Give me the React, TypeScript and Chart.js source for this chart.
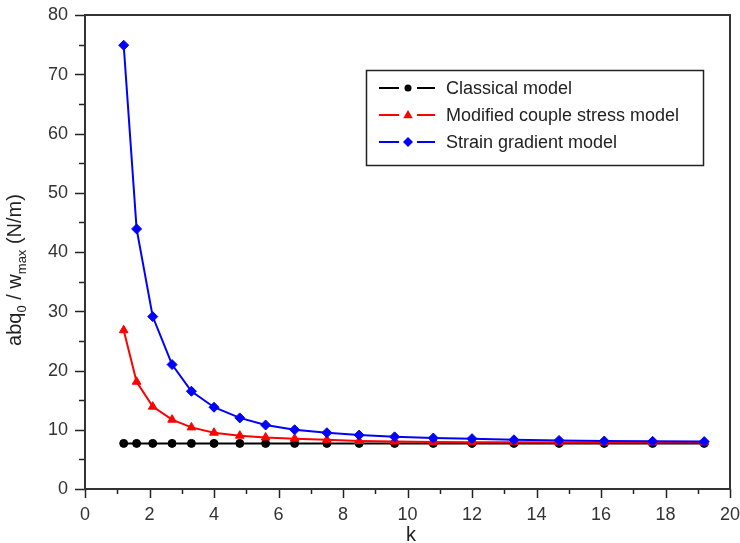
import React, { useEffect, useRef } from 'react';
import { Chart, registerables } from 'chart.js';

Chart.register(...registerables);

// ---- data ----
const kValues = [1.2, 1.6, 2.1, 2.7, 3.3, 4.0, 4.8, 5.6, 6.5, 7.5, 8.5, 9.6, 10.8, 12.0, 13.3, 14.7, 16.1, 17.6, 19.2];
const classicalValues = [7.7, 7.7, 7.7, 7.7, 7.7, 7.7, 7.7, 7.7, 7.7, 7.7, 7.7, 7.7, 7.7, 7.7, 7.7, 7.7, 7.7, 7.7, 7.7];
const modifiedValues = [26.8, 18.1, 13.9, 11.7, 10.4, 9.5, 9.0, 8.7, 8.5, 8.3, 8.1, 8.0, 7.95, 7.9, 7.9, 7.85, 7.85, 7.85, 7.85];
const strainValues = [74.9, 43.9, 29.1, 21.0, 16.5, 13.8, 12.0, 10.8, 10.0, 9.5, 9.1, 8.8, 8.6, 8.5, 8.3, 8.2, 8.1, 8.05, 8.0];
const seriesNames = ['Classical model', 'Modified couple stress model', 'Strain gradient model'];
const seriesColors = ['#000000', '#ff0000', '#0000ff'];
const seriesMarkers = ['circle', 'triangle', 'rectRot'];
const xRange = [0, 20];
const yRange = [0, 80];
const xMajorStep = 2;
const yMajorStep = 10;
const xTitle = 'k';
const yTitleParts: { t: string; sub: boolean }[] = [
  { t: 'abq', sub: false },
  { t: '0', sub: true },
  { t: ' / w', sub: false },
  { t: 'max', sub: true },
  { t: ' (N/m)', sub: false },
];

const FONT = '"Liberation Sans", Arial, Helvetica, sans-serif';

function drawMarker(ctx: CanvasRenderingContext2D, kind: string, x: number, y: number, r: number, color: string) {
  ctx.save();
  ctx.fillStyle = color;
  ctx.beginPath();
  if (kind === 'circle') {
    ctx.arc(x, y, r, 0, Math.PI * 2);
  } else if (kind === 'triangle') {
    ctx.moveTo(x, y - r);
    ctx.lineTo(x + r * 0.95, y + r * 0.65);
    ctx.lineTo(x - r * 0.95, y + r * 0.65);
    ctx.closePath();
  } else {
    ctx.moveTo(x, y - r);
    ctx.lineTo(x + r, y);
    ctx.lineTo(x, y + r);
    ctx.lineTo(x - r, y);
    ctx.closePath();
  }
  ctx.fill();
  ctx.restore();
}

const decorPlugin = {
  id: 'decor',
  afterDraw(chart: any) {
    const { ctx, chartArea: a, scales } = chart;
    const xs = scales.x;
    const ys = scales.y;
    ctx.save();
    // ticks (major + minor)
    ctx.strokeStyle = '#222';
    ctx.lineWidth = 1.5;
    for (let v = xRange[0]; v <= xRange[1]; v += 1) {
      const x = Math.round(xs.getPixelForValue(v)) + 0.5;
      const len = v % xMajorStep === 0 ? 9 : 5;
      ctx.beginPath();
      ctx.moveTo(x, a.bottom);
      ctx.lineTo(x, a.bottom + len);
      ctx.stroke();
    }
    for (let v = yRange[0]; v <= yRange[1]; v += yMajorStep / 2) {
      const y = Math.round(ys.getPixelForValue(v)) + 0.5;
      const len = v % yMajorStep === 0 ? 10 : 6;
      ctx.beginPath();
      ctx.moveTo(a.left - len, y);
      ctx.lineTo(a.left, y);
      ctx.stroke();
    }
    // frame
    ctx.strokeStyle = '#333';
    ctx.lineWidth = 2;
    ctx.strokeRect(a.left, a.top, a.right - a.left, a.bottom - a.top);

    // tick labels from the scales' ticks
    ctx.fillStyle = '#333';
    ctx.font = `18px ${FONT}`;
    ctx.textBaseline = 'middle';
    ctx.textAlign = 'center';
    for (const t of xs.ticks) {
      ctx.fillText(String(t.value), xs.getPixelForValue(t.value), 515);
    }
    ctx.textAlign = 'right';
    for (const t of ys.ticks) {
      ctx.fillText(String(t.value), 68, ys.getPixelForValue(t.value) + 0.5);
    }

    // x title
    ctx.fillStyle = '#222';
    ctx.font = `20px ${FONT}`;
    ctx.textAlign = 'center';
    ctx.textBaseline = 'alphabetic';
    ctx.fillText(xTitle, 411, 541);

    // y title with subscripts
    const mainFont = `20px ${FONT}`;
    const subFont = `13px ${FONT}`;
    let total = 0;
    for (const p of yTitleParts) {
      ctx.font = p.sub ? subFont : mainFont;
      total += ctx.measureText(p.t).width;
    }
    ctx.save();
    ctx.translate(21, 270);
    ctx.rotate(-Math.PI / 2);
    ctx.textAlign = 'left';
    ctx.textBaseline = 'alphabetic';
    let cx = -total / 2;
    for (const p of yTitleParts) {
      ctx.font = p.sub ? subFont : mainFont;
      ctx.fillText(p.t, cx, p.sub ? 5 : 0);
      cx += ctx.measureText(p.t).width;
    }
    ctx.restore();

    // legend
    ctx.strokeStyle = '#222';
    ctx.lineWidth = 1.5;
    ctx.strokeRect(366.5, 70.5, 337, 95);
    const rows = [88, 115, 142];
    ctx.font = `18px ${FONT}`;
    ctx.textAlign = 'left';
    ctx.textBaseline = 'middle';
    seriesNames.forEach((name, i) => {
      const y = rows[i];
      ctx.strokeStyle = seriesColors[i];
      ctx.lineWidth = 2;
      ctx.beginPath();
      ctx.moveTo(379, y);
      ctx.lineTo(399, y);
      ctx.moveTo(417, y);
      ctx.lineTo(435, y);
      ctx.stroke();
      drawMarker(ctx, seriesMarkers[i], 408, y, i === 0 ? 3.5 : 5, seriesColors[i]);
      ctx.fillStyle = '#222';
      ctx.fillText(name, 446, y + 1);
    });
    ctx.restore();
  },
};

export default function App() {
  const ref = useRef<HTMLCanvasElement | null>(null);
  useEffect(() => {
    if (!ref.current) return;
    const mk = (vals: number[]) => kValues.map((k, i) => ({ x: k, y: vals[i] }));
    const seriesValues = [classicalValues, modifiedValues, strainValues];
    const chart = new Chart(ref.current, {
      type: 'line',
      data: {
        datasets: seriesNames.map((name, i) => ({
          label: name,
          data: mk(seriesValues[i]),
          borderColor: seriesColors[i],
          backgroundColor: seriesColors[i],
          borderWidth: 2,
          pointStyle: seriesMarkers[i] as any,
          pointRadius: i === 0 ? 4 : 5,
          pointBorderWidth: 1,
          pointBorderColor: seriesColors[i],
          pointBackgroundColor: seriesColors[i],
          tension: 0,
          fill: false,
          order: 2 - i,
        })),
      },
      options: {
        responsive: false,
        animation: false,
        devicePixelRatio: 1,
        layout: { padding: { top: 15, right: 10, bottom: 0, left: 0 } },
        plugins: { legend: { display: false }, tooltip: { enabled: false } },
        scales: {
          x: {
            type: 'linear',
            min: xRange[0],
            max: xRange[1],
            grid: { display: false },
            border: { display: false },
            ticks: { stepSize: xMajorStep, display: false },
            afterFit: (s: any) => { s.height = 54; },
          },
          y: {
            type: 'linear',
            min: yRange[0],
            max: yRange[1],
            grid: { display: false },
            border: { display: false },
            ticks: { stepSize: yMajorStep, display: false },
            afterFit: (s: any) => { s.width = 85; },
          },
        },
      },
      plugins: [decorPlugin],
    });
    return () => chart.destroy();
  }, []);
  return (
    <div style={{ position: 'fixed', left: 0, top: 0, width: 740, height: 543, background: '#fff' }}>
      <canvas ref={ref} width={740} height={543} style={{ display: 'block' }} />
    </div>
  );
}
